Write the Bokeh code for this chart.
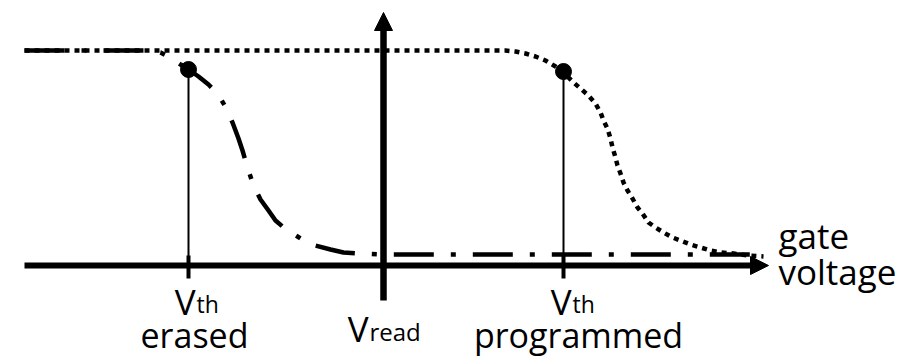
from bokeh.plotting import figure
from bokeh.models import Range1d, Arrow, NormalHead
from bokeh.core.properties import value
from bokeh.embed import file_html
from bokeh.resources import INLINE

# ---- data (diagram coordinates: x = gate voltage position, y = drain current level, screen-like) ----
erased_x = [24, 150, 160, 170, 180, 188, 198, 208, 215, 220, 226, 232, 238, 242, 247, 253, 260,
            268, 275, 282, 289, 297, 305, 315, 330, 343, 360, 380, 757]
erased_y = [50, 50, 52, 57, 64, 69, 76, 84, 91, 98, 108, 122, 138, 150, 167, 185, 199,
            210, 220, 226, 231, 236, 241, 245, 249, 252, 253, 254, 254]

programmed_x = [24, 505, 515, 525, 535, 545, 555, 563, 573, 580, 588, 595, 600, 603, 607, 610, 612,
                615, 617, 620, 623, 627, 632, 637, 642, 648, 655, 663, 672, 680, 690, 700, 710,
                720, 733, 747, 763]
programmed_y = [50, 50, 51, 53, 56, 60, 66, 72, 82, 88, 95, 103, 112, 120, 128, 138, 147,
                157, 165, 173, 182, 190, 198, 207, 213, 222, 227, 232, 237, 240, 244, 247, 250,
                252, 253, 255, 256]

vth_x = [188, 563]          # threshold voltages (erased, programmed)
vth_y = [69, 71]            # current at threshold
v_read = 383
axis_y = 265
axis_x_start, axis_x_end = 24, 768
vaxis_bottom, vaxis_top = 300, 12

vth_sub = ["th", "th"]
vth_names = ["erased", "programmed"]
vth_label_x = [195, 571]
vth_name_x = [194, 578]
read_label = "read"
xlabel_lines = ["gate", "voltage"]

FONT = value("Open Sans")
DY = -12  # baseline correction for the svg text renderer

p = figure(width=920, height=356, x_range=Range1d(0, 920), y_range=Range1d(356, 0),
           output_backend="svg", toolbar_location=None, x_axis_type=None, y_axis_type=None,
           min_border=0)
p.grid.visible = False
p.outline_line_color = None
p.background_fill_color = "white"
p.border_fill_color = "white"

# curves
p.line(erased_x, erased_y, line_color="black", line_width=4.5, line_dash="40 17 5 17")
p.line(programmed_x, programmed_y, line_color="black", line_width=4.5, line_dash="5 5")

# threshold markers
p.segment(x0=vth_x, y0=vth_y, x1=vth_x, y1=[axis_y] * 2, line_color="black", line_width=2)
p.segment(x0=vth_x, y0=[axis_y - 10] * 2, x1=vth_x, y1=[axis_y + 13] * 2, line_color="black", line_width=4)
p.scatter(vth_x, vth_y, marker="circle", size=16, fill_color="black", line_color="black")

# axes with arrows
p.add_layout(Arrow(end=NormalHead(size=18, fill_color="black", line_color="black"),
                   x_start=axis_x_start, y_start=axis_y, x_end=axis_x_end, y_end=axis_y,
                   line_width=6, line_color="black"))
p.add_layout(Arrow(end=NormalHead(size=18, fill_color="black", line_color="black"),
                   x_start=v_read, y_start=vaxis_bottom, x_end=v_read, y_end=vaxis_top,
                   line_width=6.5, line_color="black"))

# labels
p.text(x=vth_label_x, y=[313 + DY] * 2, text=["V", "V"], text_font=FONT, text_font_size="35px",
       text_align="right", text_baseline="alphabetic", text_color="black")
p.text(x=[v + 1 for v in vth_label_x], y=[315 + DY] * 2, text=vth_sub, text_font=FONT,
       text_font_size="23px", text_align="left", text_baseline="alphabetic", text_color="black")
p.text(x=vth_name_x, y=[346 + DY] * 2, text=vth_names, text_font=FONT, text_font_size="34px",
       text_align="center", text_baseline="alphabetic", text_color="black")
p.text(x=[368], y=[340 + DY], text=["V"], text_font=FONT, text_font_size="35px",
       text_align="right", text_baseline="alphabetic", text_color="black")
p.text(x=[369], y=[343 + DY], text=[read_label], text_font=FONT, text_font_size="24px",
       text_align="left", text_baseline="alphabetic", text_color="black")
p.text(x=[778, 778], y=[247 + DY, 283 + DY], text=xlabel_lines, text_font=FONT, text_font_size="35px",
       text_align="left", text_baseline="alphabetic", text_color="black")

open("out.html", "w").write(file_html(p, INLINE))
